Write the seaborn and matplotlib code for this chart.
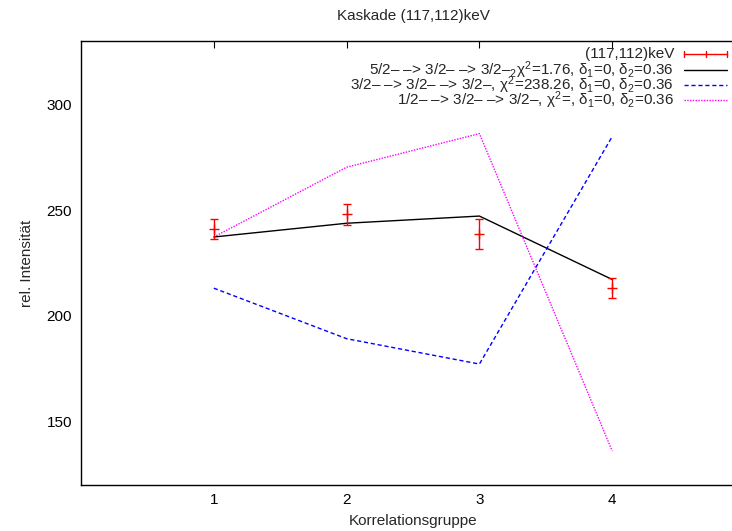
import matplotlib
matplotlib.use("Agg")
import matplotlib.pyplot as plt
import seaborn as sns
import pandas as pd

# Correlation groups and measured intensities
groups = [1, 2, 3, 4]
measured = [241.0, 248.1, 238.7, 213.2]
measured_err = [4.8, 4.9, 7.1, 4.7]

# Fitted cascades
fit_52 = [237.3, 243.8, 247.2, 217.2]
fit_32 = [213.1, 189.2, 177.2, 284.8]
fit_12 = [237.3, 270.3, 286.2, 136.1]

labels = [
    "(117,112)keV",
    "5/2– –> 3/2– –> 3/2–$_2\\chi^2$=1.76, $\\delta_1$=0, $\\delta_2$=0.36",
    "3/2– –> 3/2– –> 3/2–, $\\chi^2$=238.26, $\\delta_1$=0, $\\delta_2$=0.36",
    "1/2– –> 3/2– –> 3/2–, $\\chi^2$=, $\\delta_1$=0, $\\delta_2$=0.36",
]

sns.set_theme(style="white")
plt.rcParams["font.family"] = ["Liberation Sans", "DejaVu Sans"]
plt.rcParams["mathtext.fontset"] = "custom"
plt.rcParams["mathtext.rm"] = "Liberation Sans"
plt.rcParams["mathtext.it"] = "Liberation Sans"

FS = 11
W, H = 732, 531
fig = plt.figure(figsize=(W / 100, H / 100), dpi=100)
fig.patch.set_facecolor("white")
# axes box in pixels: left 81, right 745 (past the edge), top 41, bottom 485
ax = fig.add_axes([81 / W, (H - 485) / H, 664 / W, 444 / H])
ax.set_facecolor("white")

df = pd.DataFrame({"grp": groups, "f52": fit_52, "f32": fit_32, "f12": fit_12})

sns.lineplot(data=df, x="grp", y="f52", ax=ax, color="black", lw=1.0)
sns.lineplot(data=df, x="grp", y="f32", ax=ax, color="#0000ff", lw=1.0,
             linestyle=(0, (3, 2)))
sns.lineplot(data=df, x="grp", y="f12", ax=ax, color="#ff00ff", lw=1.0,
             linestyle=(0, (1, 1)))

ax.errorbar(groups, measured, yerr=measured_err, fmt="+", color="red",
            ecolor="red", elinewidth=1.0, capsize=3, capthick=1.0, ms=7, mew=1.0)

ax.set_xlim(0, 5)
ax.set_ylim(120, 330)
ax.set_xticks(groups)
ax.set_yticks([150, 200, 250, 300])
ax.tick_params(direction="in", length=5, width=0.8, top=True, right=True,
               labelsize=FS, colors="black")
ax.tick_params(axis="x", pad=6)
ax.tick_params(axis="y", pad=6.5)
for s in ax.spines.values():
    s.set_color("black")
    s.set_linewidth(1.0)

ax.set_xlabel("Korrelationsgruppe", fontsize=FS, labelpad=5)
ax.set_ylabel("rel. Intensität", fontsize=FS, labelpad=9)
ax.set_title("Kaskade (117,112)keV", fontsize=FS, pad=15)

# key in the upper right, text right-aligned before each sample
px = lambda x, y: ax.transAxes.inverted().transform(fig.transFigure.transform((x / W, 1 - y / H)))
rows_y = [54, 70, 85, 100]
for i, (lab, yy) in enumerate(zip(labels, rows_y)):
    tx, ty = px(674, yy)
    ax.text(tx, ty, lab, transform=ax.transAxes, ha="right", va="center", fontsize=FS)
    x0, y0 = px(684, yy)
    x1, _ = px(727, yy)
    if i == 0:
        ax.plot([x0, x1], [y0, y0], transform=ax.transAxes, color="red", lw=1.0, clip_on=False)
        xm = (x0 + x1) / 2
        for xx in (x0, xm, x1):
            _, ya = px(0, yy - 3)
            _, yb = px(0, yy + 3)
            ax.plot([xx, xx], [ya, yb], transform=ax.transAxes, color="red", lw=1.0, clip_on=False)
    elif i == 1:
        ax.plot([x0, x1], [y0, y0], transform=ax.transAxes, color="black", lw=1.0)
    elif i == 2:
        ax.plot([x0, x1], [y0, y0], transform=ax.transAxes, color="#0000ff", lw=1.0,
                linestyle=(0, (3, 2)))
    else:
        ax.plot([x0, x1], [y0, y0], transform=ax.transAxes, color="#ff00ff", lw=1.0,
                linestyle=(0, (1, 1)))

fig.savefig("out.png", dpi=100, facecolor="white")
